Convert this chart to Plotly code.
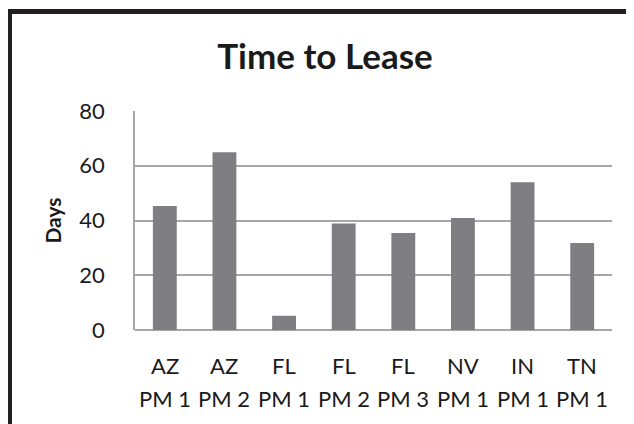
import plotly.graph_objects as go

states = ["AZ", "AZ", "FL", "FL", "FL", "NV", "IN", "TN"]
managers = ["PM 1", "PM 2", "PM 1", "PM 2", "PM 3", "PM 1", "PM 1", "PM 1"]
days = [45.3, 64.9, 5.2, 38.9, 35.4, 40.9, 54.0, 31.8]
yticks = [0, 20, 40, 60, 80]

cats = [f"{s} {m}" for s, m in zip(states, managers)]
FONT = "Lato"
OFF = 8  # page body margin

fig = go.Figure(go.Bar(x=cats, y=days, marker=dict(color="#7f7f83", line=dict(width=0)),
                       width=0.4))

ann = []
for c, s, m in zip(cats, states, managers):
    ann.append(dict(x=c, y=0, xref="x", yref="paper", text=s, showarrow=False,
                    yanchor="middle", yshift=-35, font=dict(size=22, color="#1a1a1a", family=FONT)))
    ann.append(dict(x=c, y=0, xref="x", yref="paper", text=m, showarrow=False,
                    yanchor="middle", yshift=-68, font=dict(size=22, color="#1a1a1a", family=FONT)))

W, H = 634, 424
L, T = 135 - OFF, 111 - OFF
R, B = W - (612 - OFF), H - (330 - OFF)
pw, ph = W - L - R, H - T - B
def px(X):
    return (X - OFF - L) / pw
def py(Y):
    return (H - B - (Y - OFF)) / ph

shapes = [
    dict(type="line", xref="paper", yref="paper", x0=px(9.5), x1=px(660), y0=py(11.5), y1=py(11.5),
         line=dict(color="#231f20", width=5)),
    dict(type="line", xref="paper", yref="paper", x0=px(9.5), x1=px(9.5), y0=py(9), y1=py(450),
         line=dict(color="#231f20", width=5)),
]

fig.update_layout(
    width=W, height=H,
    margin=dict(l=L, r=R, t=T, b=B),
    paper_bgcolor="white", plot_bgcolor="white",
    title=dict(text="<b>Time to Lease</b>", x=(325 - OFF) / W, xanchor="center",
               y=1 - (57 - OFF) / H, yanchor="middle",
               font=dict(size=35, color="#1a1a1a", family=FONT)),
    showlegend=False,
    bargap=0.6,
    xaxis=dict(showticklabels=False, ticks="", showline=False, showgrid=False, fixedrange=True),
    yaxis=dict(range=[0, 80], tickvals=yticks, showgrid=True, gridcolor="#a6a6a6", gridwidth=1.5,
               showline=True, linecolor="#a6a6a6", linewidth=1.5, zeroline=True,
               zerolinecolor="#a6a6a6", zerolinewidth=1.5, ticks="",
               ticklabelstandoff=24,
               tickfont=dict(size=22, color="#1a1a1a", family=FONT),
               title=dict(text="<b>Days</b>", font=dict(size=21, color="#1a1a1a", family=FONT), standoff=12)),
    annotations=ann,
    shapes=shapes,
)

fig.write_html("out.html")
